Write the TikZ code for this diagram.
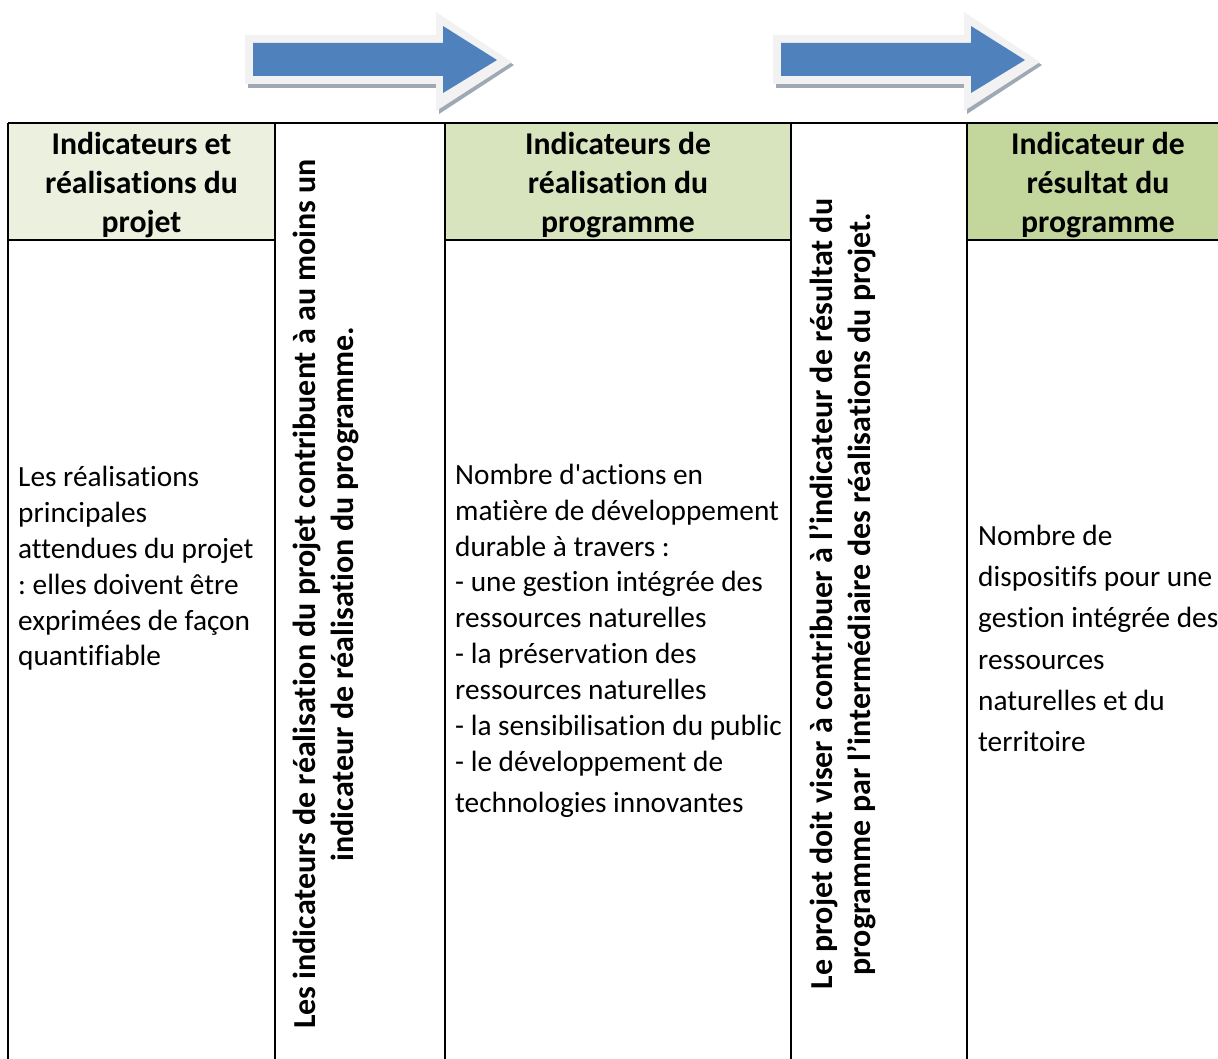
\documentclass[tikz,border=0pt]{standalone}
\usepackage{fontspec}
\newfontfamily\calibri{Carlito}[Ligatures={NoCommon}]
\definecolor{headA}{RGB}{235,241,222}
\definecolor{headB}{RGB}{215,228,189}
\definecolor{headC}{RGB}{195,214,155}
\definecolor{arrowBlue}{RGB}{79,129,189}
\definecolor{arrowRim}{RGB}{242,242,242}
\definecolor{arrowShade}{RGB}{160,168,182}
\begin{document}
\frenchspacing
\begin{tikzpicture}[x=1pt,y=-1pt,
  rule/.style={line width=1.8pt,draw=black},
  bodytext/.style={anchor=base west,inner sep=0pt,font=\calibri\fontsize{29.3}{35.8}\selectfont},
  headtext/.style={anchor=base,inner sep=0pt,font=\calibri\bfseries\fontsize{31.7}{39}\selectfont},
  verttext/.style={anchor=base,inner sep=0pt,rotate=90,font=\calibri\bfseries\fontsize{32}{39}\selectfont},
  arrowshade/.style={fill=arrowShade},
  arrowrim/.style={fill=arrowRim},
  arrowbody/.style={fill=arrowBlue}]
\useasboundingbox (0,0) rectangle (1218,1059);
% arrows
\foreach \s in {0,528}{
  \begin{scope}[xshift=\s pt]
    \fill[arrowshade] (248,39) -- (439,39) -- (439,16) -- (514,65) -- (439,114) -- (439,88) -- (248,88) -- cycle;
    \fill[arrowrim] (245,35) -- (436,35) -- (436,12) -- (512,62) -- (436,111) -- (436,84) -- (245,84) -- cycle;
    \fill[arrowbody] (253,43) -- (443,43) -- (443,26) -- (497,60) -- (443,93) -- (443,76) -- (253,76) -- cycle;
  \end{scope}
}
% header fills
\fill[headA] (8,123) rectangle (275,240);
\fill[headB] (445,123) rectangle (791,240);
\fill[headC] (967,123) rectangle (1218,240);
% rules
\draw[rule] (8,123) -- (1218,123);
\foreach \x in {8,275,445,791,967} \draw[rule] (\x,123) -- (\x,1059);
\draw[rule] (8,240) -- (275,240);
\draw[rule] (445,240) -- (791,240);
\draw[rule] (967,240) -- (1218,240);
% headers
\node[headtext] (h1a) at (141.5,155) {Indicateurs et};
\node[headtext] (h1b) at (141.5,194) {réalisations du};
\node[headtext] (h1c) at (141.5,233) {projet};
\node[headtext] (h3a) at (618,155) {Indicateurs de};
\node[headtext] (h3b) at (618,194) {réalisation du};
\node[headtext] (h3c) at (618,233) {programme};
\node[headtext] (h5a) at (1098,155) {Indicateur de};
\node[headtext] (h5b) at (1098,194) {résultat du};
\node[headtext] (h5c) at (1098,233) {programme};
% vertical texts
\node[verttext] (v2a) at (315,594) {Les indicateurs de réalisation du projet contribuent à au moins un};
\node[verttext] (v2b) at (353,594) {indicateur de réalisation du programme.};
\node[verttext] (v4a) at (832,594) {Le projet doit viser à contribuer à l’indicateur de résultat du};
\node[verttext] (v4b) at (870,594) {programme par l’intermédiaire des réalisations du projet.};
% column 1 body
\foreach \t [count=\i] in {Les réalisations,principales,attendues du projet,{: elles doivent être},exprimées de façon,quantifiable}
  \node[bodytext] (c1l\i) at (18,451+35.8*\i) {\t};
% column 3 body
\foreach \t/\yy [count=\i] in {Nombre d'actions en/484,matière de développement/520,durable à travers :/556,- une gestion intégrée des/591,ressources naturelles/627,- la préservation des/663,ressources naturelles/699,- la sensibilisation du public/735,- le développement de/771,technologies innovantes/812}
  \node[bodytext] (c3l\i) at (455,\yy) {\t};
% column 5 body
\foreach \t/\yy [count=\i] in {Nombre de/545,dispositifs pour une/586,gestion intégrée des/627,ressources/669,naturelles et du/710,territoire/751}
  \node[bodytext] (c5l\i) at (978,\yy) {\t};
\end{tikzpicture}
\end{document}
